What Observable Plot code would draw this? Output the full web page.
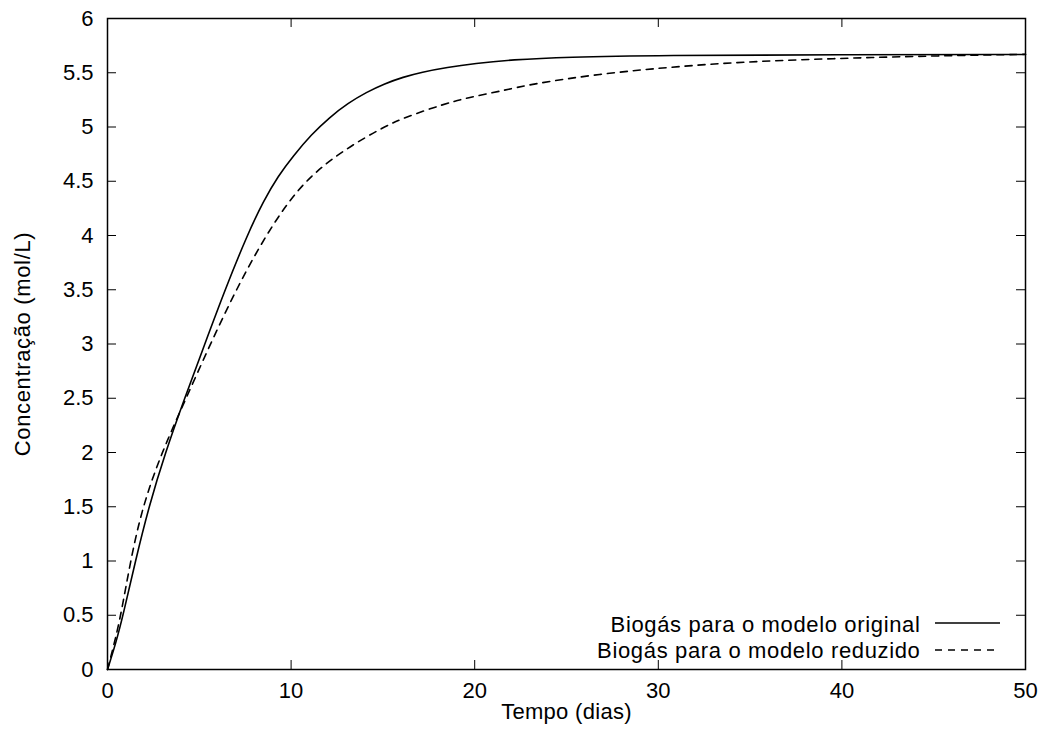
<!DOCTYPE html>
<html>
<head>
<meta charset="utf-8">
<script src="https://cdn.jsdelivr.net/npm/d3@7"></script>
<script src="https://cdn.jsdelivr.net/npm/@observablehq/plot@0.6"></script>
<style>
  html, body { margin: 0; padding: 0; background: white; }
</style>
</head>
<body>
<div id="chart"></div>
<script>
// ---- data ----
const xTicks = [0, 10, 20, 30, 40, 50];
const yTicks = [0, 0.5, 1, 1.5, 2, 2.5, 3, 3.5, 4, 4.5, 5, 5.5, 6];

const seriesNames = ["Biogás para o modelo original", "Biogás para o modelo reduzido"];

const tOriginal = [0, 0.45, 0.85, 1.52, 2.25, 3.15, 4.2, 5.3, 6.4, 7.6, 8.5, 9.3, 10.1, 11.1, 12.1, 13.1, 14.1, 15.1, 16.1, 17.1, 18.5, 20, 22, 25, 30, 40, 50];
const vOriginal = [0, 0.24, 0.5, 1.0, 1.5, 2.0, 2.5, 3.0, 3.5, 4.0, 4.32, 4.55, 4.73, 4.93, 5.09, 5.22, 5.32, 5.40, 5.46, 5.505, 5.55, 5.585, 5.62, 5.645, 5.66, 5.667, 5.668];

const tReduced = [0, 0.4, 0.75, 1.25, 1.9, 2.95, 4.15, 5.6, 7.0, 8.6, 10.6, 13.05, 15.05, 16.2, 18.3, 19.6, 21.4, 23.2, 26.85, 30.5, 34.1, 37.7, 41.4, 45, 50];
const vReduced = [0, 0.26, 0.52, 1.0, 1.5, 2.0, 2.45, 3.0, 3.5, 4.0, 4.5, 4.81, 5.0, 5.09, 5.21, 5.27, 5.33, 5.40, 5.49, 5.55, 5.595, 5.62, 5.64, 5.655, 5.67];

const xLabel = "Tempo (dias)";
const yLabel = "Concentração (mol/L)";

const original = tOriginal.map((t, i) => ({t, v: vOriginal[i]}));
const reduced = tReduced.map((t, i) => ({t, v: vReduced[i]}));

// ---- layout ----
const W = 1046, H = 735;
const mL = 107, mR = 21, mT = 18, mB = 66;
const plotW = W - mL - mR, plotH = H - mT - mB;
const tick = 9;
const font = "'Liberation Sans', Arial, Helvetica, sans-serif";

const chart = Plot.plot({
  width: W,
  height: H,
  marginLeft: mL,
  marginRight: mR,
  marginTop: mT,
  marginBottom: mB,
  style: {fontFamily: font, fontSize: "22px", background: "white", color: "black"},
  x: {domain: [0, 50]},
  y: {domain: [0, 6]},
  marks: [
    Plot.axisX({ticks: xTicks, tickSize: 0, tickPadding: 13, label: null, fontSize: 22, tickFormat: d => String(d)}),
    Plot.axisY({ticks: yTicks, tickSize: 0, tickPadding: 14, label: null, fontSize: 22, tickFormat: d => String(d)}),
    // inward tick marks on all four sides (mirrored)
    Plot.ruleX(xTicks, {x: d => d, insetTop: plotH - tick, stroke: "black", strokeWidth: 1}),
    Plot.ruleX(xTicks, {x: d => d, insetBottom: plotH - tick, stroke: "black", strokeWidth: 1}),
    Plot.ruleY(yTicks, {y: d => d, insetRight: plotW - tick, stroke: "black", strokeWidth: 1}),
    Plot.ruleY(yTicks, {y: d => d, insetLeft: plotW - tick, stroke: "black", strokeWidth: 1}),
    Plot.line(original, {x: "t", y: "v", curve: "basis", stroke: "black", strokeWidth: 1.6}),
    Plot.line(reduced, {x: "t", y: "v", curve: "basis", stroke: "black", strokeWidth: 1.6, strokeDasharray: "7,6"}),
    Plot.frame({stroke: "black", strokeWidth: 1.5}),
    Plot.text([yLabel], {text: d => d, frameAnchor: "left", dx: -85, rotate: -90, textAnchor: "middle", lineAnchor: "middle", fontSize: 22}),
    Plot.text([xLabel], {text: d => d, frameAnchor: "bottom", dy: 42, textAnchor: "middle", lineAnchor: "middle", fontSize: 22}),
    Plot.text([seriesNames[0]], {text: d => d, frameAnchor: "bottom-right", dx: -105, dy: -45, textAnchor: "end", lineAnchor: "middle", fontSize: 22}),
    Plot.text([seriesNames[1]], {text: d => d, frameAnchor: "bottom-right", dx: -105, dy: -19, textAnchor: "end", lineAnchor: "middle", fontSize: 22})
  ]
});

document.getElementById("chart").appendChild(chart);

const svg = d3.select(chart);
// slightly wider letter spacing like the original renderer
const textGroups = svg.selectAll("g[aria-label='text']").nodes();
textGroups.forEach((g, i) => {
  d3.select(g).selectAll("text").attr("letter-spacing", i === 1 ? "0.3px" : "0.65px");
});

// legend line samples
const lx1 = mL + plotW - 90, lx2 = mL + plotW - 25;
svg.append("line")
  .attr("x1", lx1).attr("x2", lx2)
  .attr("y1", mT + plotH - 46).attr("y2", mT + plotH - 46)
  .attr("stroke", "black").attr("stroke-width", 1.6);
svg.append("line")
  .attr("x1", lx1).attr("x2", lx2)
  .attr("y1", mT + plotH - 19).attr("y2", mT + plotH - 19)
  .attr("stroke", "black").attr("stroke-width", 1.6)
  .attr("stroke-dasharray", "7,6");
</script>
</body>
</html>
